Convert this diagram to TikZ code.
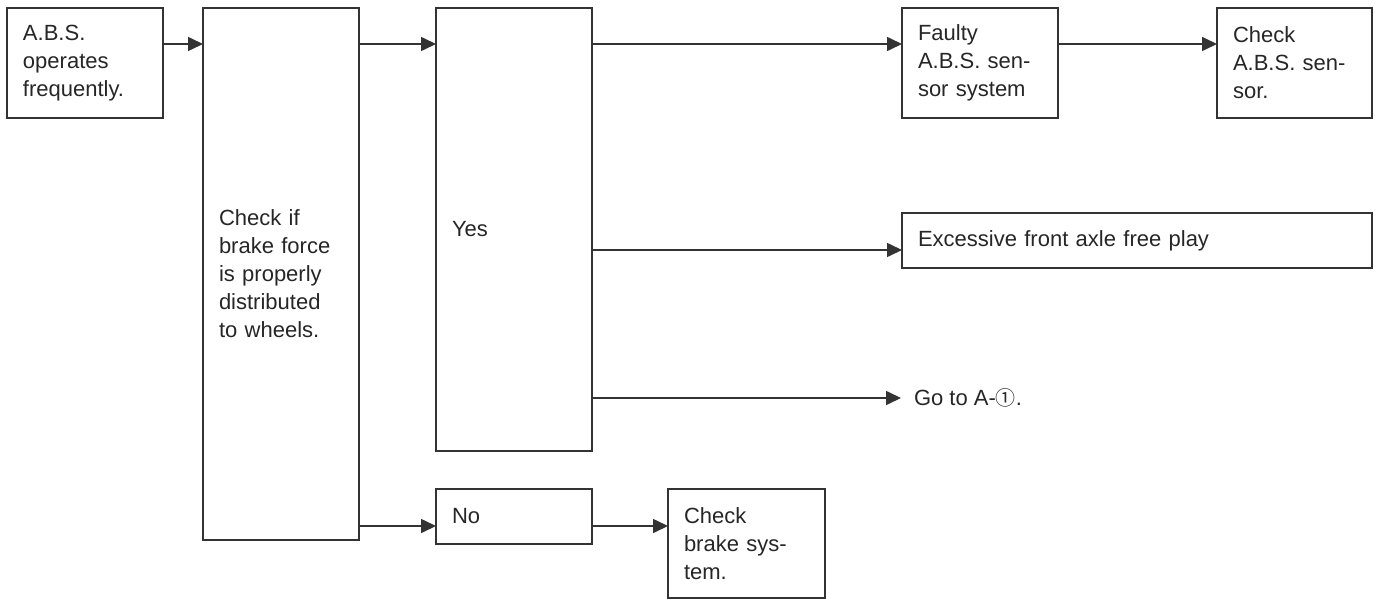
\documentclass[tikz,border=0pt]{standalone}
\usepackage{fontspec}
\setmainfont{Liberation Sans}
\newfontfamily\circfont{Noto Sans CJK SC}
\usetikzlibrary{arrows.meta}

\tikzset{
  box/.style={draw=black!80, line width=0.8pt, outer sep=0pt, inner xsep=8pt, inner ysep=0pt,
    align=left, anchor=north west, font=\fontsize{11}{14}\selectfont, text=black!85},
  flow/.style={->, draw=black!80, line width=0.8pt}
}

\begin{document}
\begin{tikzpicture}[x=0.5pt, y=-0.5pt, >={Triangle[length=7.5pt,width=7pt]}]
  % ==== CANVAS ====
  \useasboundingbox (0,0) rectangle (1375,599);

  % ==== ROWS OF THE ARROWS ====
  \coordinate (rowTop) at (0,44);
  \coordinate (rowMid) at (0,250);
  \coordinate (rowGo) at (0,398);
  \coordinate (rowLow) at (0,526);

  % ==== BOXES ====
  \node[box, text width=62pt, minimum height=55pt] (abs) at (7,8) {A.B.S.\\operates\\frequently.};
  \node[box, text width=62pt, minimum height=266pt] (force) at (203,8) {Check if\\brake force\\is properly\\distributed\\to wheels.\\[12pt]};
  \node[box, text width=62pt, minimum height=221.5pt] (yes) at (436,8) {Yes};
  \node[box, text width=62pt, minimum height=55pt] (faulty) at (902,8) {Faulty\\A.B.S. sen-\\sor system};
  \node[box, text width=61.5pt, minimum height=55pt] (sensor) at (1217,8) {Check\\A.B.S. sen-\\sor.};
  \node[box, text width=219pt, minimum height=27.5pt] (axle) at (902,213) {Excessive front axle free play};
  \node[box, draw=none, anchor=west, inner xsep=6.5pt] (goto) at (901,398) {Go to A-{\circfont\fontsize{10}{14}\selectfont ①}.};
  \node[box, text width=62pt, minimum height=27.5pt] (no) at (436,489) {No};
  \node[box, text width=62.5pt, minimum height=54.5pt] (brake) at (668,489) {Check\\brake sys-\\tem.};

  % ==== CONNECTORS ====
  \draw[flow] (abs.east |- rowTop) -- (force.west |- rowTop);
  \draw[flow] (force.east |- rowTop) -- (yes.west |- rowTop);
  \draw[flow] (yes.east |- rowTop) -- (faulty.west |- rowTop);
  \draw[flow] (faulty.east |- rowTop) -- (sensor.west |- rowTop);
  \draw[flow] (yes.east |- rowMid) -- (axle.west |- rowMid);
  \draw[flow] (yes.east |- rowGo) -- (goto.west);
  \draw[flow] (force.east |- rowLow) -- (no.west |- rowLow);
  \draw[flow] (no.east |- rowLow) -- (brake.west |- rowLow);

\end{tikzpicture}
\end{document}
